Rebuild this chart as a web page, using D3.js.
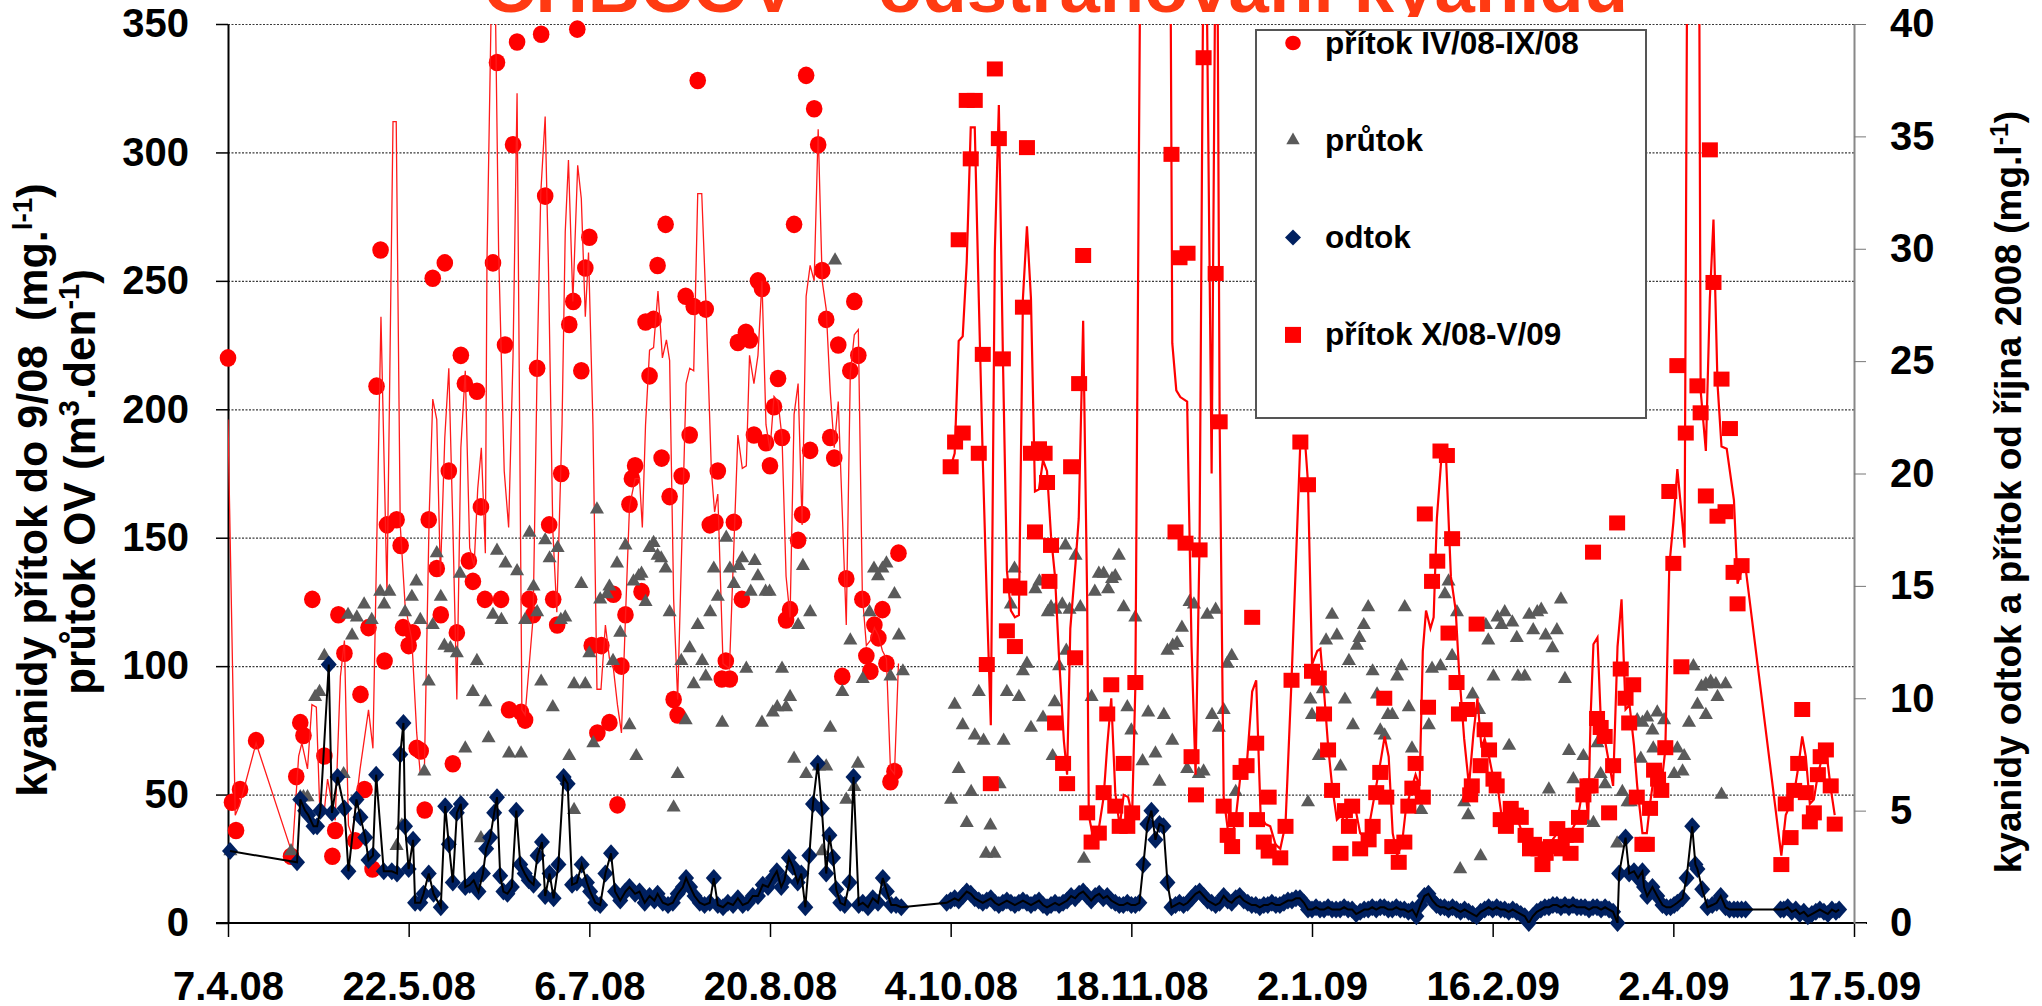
<!DOCTYPE html>
<meta charset="utf-8">

<!-- Load d3.js -->
<script src="https://d3js.org/d3.v7.min.js"></script>

<style>
  body { margin: 0; background: #fff; }
  svg { display: block; font-family: "Liberation Sans", Arial, sans-serif; font-weight: bold; }
</style>

<div id="graf"></div>

<script>

// osa x: popisky dat, dny se pocitaji od 7.4.08
const datumy = ["7.4.08", "22.5.08", "6.7.08", "20.8.08", "4.10.08", "18.11.08", "2.1.09", "16.2.09", "2.4.09", "17.5.09"];
const levaOsa = [0, 50, 100, 150, 200, 250, 300, 350];
const pravaOsa = [0, 5, 10, 15, 20, 25, 30, 35, 40];

// přítok IV/08-IX/08 (mg/l), kolecka, leva osa  [den, hodnota]
const pritokLeto = [[0,220],[1,47],[2,36],[3,52],[7,71],[15.7,26],[17,57],[18,78],[18.8,73],[21,126],[24,65],[26,26],[26.7,36],[27.5,120],[29,105],[31.7,32],[33,89],[34,52],[35,115],[36,21],[37,209],[38,262],[39,102],[39.6,155],[42,157],[43,147],[43.6,115],[45,108],[46,113],[47,68],[48,67],[49,44],[50,157],[51,251],[52,138],[53,120],[54,257],[55,176],[56,62],[57,113],[58,221],[59,210],[60,141],[61,133],[62,207],[63,162],[64,126],[66,257],[67,335],[68,126],[69,225],[70,83],[71,303],[72,343],[73,82],[74,79],[75,126],[76,120],[77,216],[78,346],[79,283],[80,155],[81,126],[82,116],[83,175],[85,233],[86,242],[87,348],[88,215],[89,255],[90,267],[90.6,108],[92,74],[93,108],[95,78],[96,128],[97,46],[98,100],[99,120],[100,163],[100.6,173],[101.4,178],[103,129],[104,234],[105,213],[106,235],[107,256],[108,181],[109,272],[110,166],[111,87],[112,81],[113,174],[114,244],[115,190],[116,240],[117,328],[119,239],[120,155],[121.4,156],[122,176],[123,95],[124,102],[125,95],[126,156],[127,226],[128,126],[129,230],[130,227],[131,190],[132,250],[133,247],[134,187],[135,178],[136,201],[137,212],[138,189],[139,118],[140,122],[141,272],[142,149],[143,159],[144,330],[145,184],[146,317],[147,303],[148,254],[149,235],[150,189],[151,181],[152,225],[153,96],[154,134],[155,215],[156,242],[157,221],[158,126],[159,104],[160,98],[161,116],[162,111],[163,122],[164,101],[165,55],[166,59],[167,144]];

// tenka cara k přítoku IV-IX
const pritokLetoLinie = [[0,196],[1.8,42],[2.9,46],[7,70],[16,27],[17.6,65],[18.4,70],[19.8,60],[20.9,85],[22,84],[22.8,47],[24,44],[24.8,56],[26.7,40],[28,96],[29,110],[30,38],[30.9,34],[32.9,60],[35,83],[36.1,68],[38.1,236],[39.6,128],[41.1,312],[41.9,312],[42.9,155],[44.1,124],[45.8,110],[47,74],[47.9,58],[48.9,58],[50.1,158],[51,204],[52,196],[52.9,135],[54,189],[55,216],[56,155],[57,87],[58,185],[59.1,215],[60.2,146],[61.3,139],[62.2,169],[63.1,185],[64.1,144],[64.5,257],[65.7,370],[66.5,370],[67.4,262],[68.8,176],[69.9,154],[71,221],[72,323],[73.2,83],[74,81],[76,119],[77,216],[77.9,284],[79,314],[79.8,257],[80.9,153],[81.9,121],[83.2,194],[84,269],[84.8,297],[85.9,242],[87.1,295],[88,282],[89,236],[89.8,261],[90.9,194],[91.9,91],[92.9,91],[94,116],[95,103],[96,99],[97,85],[98,74],[99,119],[100,162],[101.4,173],[102.5,173],[103.2,154],[104,194],[105,223],[106,224],[107.1,246],[108.2,220],[109.2,227],[110,219],[111,126],[112,87],[114.1,210],[115,216],[116,215],[117,284],[118,284],[119.1,239],[120.4,176],[121.2,160],[122,167],[123.3,101],[124.9,99],[127,190],[128.1,177],[129.1,178],[129.9,221],[131,210],[132,221],[133,250],[134,194],[135,184],[136,205],[137,203],[138,189],[139,135],[140,119],[141,198],[142,210],[143,155],[144,244],[145,256],[146,250],[147,309],[148,250],[149,239],[150,207],[151,185],[152,203],[153,160],[154,116],[155,214],[156,229],[157,231],[158,128],[159,108],[160,110],[161,115],[162,112],[163,106],[164,103],[165,60],[166,58],[167,101]];

// průtok OV (m3/den), trojuhelniky, leva osa
const prutok = [[0.6,28],[15.7,28],[18,49],[18.8,49],[19.8,49],[21.7,88],[22.8,90],[24,104],[28.8,58],[29.9,120],[30.9,112],[32.1,119],[33.9,124],[35.8,118],[37.9,129],[38.9,124],[40.2,129],[42,30],[43.3,38],[44.1,121],[45.8,127],[46.9,133],[47.9,118],[48.9,59],[50,94],[51,116],[52,144],[53,127],[53.9,108],[55.4,107],[57,105],[57.8,136],[59.1,68],[61,90],[62,102],[63,33],[64.1,86],[64.9,72],[66,120],[67,145],[68.1,118],[69.1,140],[70,66],[72,137],[73,66],[74,118],[75.1,152],[76.1,131],[77,121],[78,94],[79,149],[80.1,142],[80.9,84],[82.1,146],[82.9,118],[84,119],[85,65],[86.2,93],[86.2,44],[88,132],[89,93],[90,105],[91,70],[91.9,161],[92.7,126],[94.4,128],[95,131],[95.9,102],[96.9,140],[97.7,113],[99,147],[100,77],[101,133],[101.7,65],[102.3,135],
  [103,136],[104,125],[105,146],[106,148],[107,143],[107.9,142],[109,138],[110,121],[111,45],[112,58],[112.9,102],[114,79],[115,107],[116,93],[117,116],[118.1,102],[119,96],[120.1,121],[121,138],[122,127],[123.1,78],[124.1,150],[125,138],[126,132],[127.2,139],[128.1,142],[129.1,99],[130.2,129],[131.2,141],[132,135],[133,78],[133.9,129],[134.9,129],[135.7,82],[136.8,84],[138,99],[139,84],[140,88],[141,64],[142,116],[143.2,139],[144,58],[145,121],[147.2,61],[148,28],[149,61],[150,76],[151.2,258],[153,90],[154,48],[155,110],[156,53],[156.9,62],[158.1,95],[159.8,121],[160.9,138],[161.9,135],[163,138],[164,140],[165,96],[166,128],[167.1,112],[168.1,98],
  [180.1,48],[181,85],[182,60],[183,77],[184,39],[185.1,51],[186,73],[187,90],[188.2,71],[188.8,27],[189.9,38],[190.9,27],[192.2,54],[193.2,71],[194,90],[195,124],[195.9,138],[197,88],[198,98],[199,101],[200,76],[201.1,130],[202.1,133],[203,80],[204.2,121],[205,123],[205.4,65],[205.9,86],
  [206.1,122],[207,100],[207.8,124],[208.6,147],[208.8,106],[209.6,122],[211.1,143],[212.3,123],[213.2,25],[215.1,88],[215.9,129],[216.9,136],[218.1,136],[219.2,130],[220.2,134],[221,135],[221.9,143],[223.1,123],[224,84],[225,75],[226,119],[227.8,63],[229.2,82],[231,66],[232,55],[233.1,81],[234,106],[235.2,71],[235.3,108],[236.4,109],[237.6,115],[238.9,60],[239.5,125],[240.6,124],[241.8,58],[243,59],[243.9,120],[245.1,81],[246,122],[246.8,76],[248,83],[248.9,101],[250,104],[251,51],[269,47],[269.6,87],[270,81],[271.7,65],[272.7,91],[273.5,110],[275,120],[276.2,112],[277.1,61],[278.2,87],[279.2,102],[280.2,77],[281.2,108],[281.8,111],[282.9,116],[284,123],[285.1,98],[286.2,89],[287,75],[288.1,73],[288.9,81],[290,81],[291.2,96],[292.3,100],[293.1,123],[294.1,84],[294.9,68],[297.2,44],[299.1,77],[299.9,99],[302,100],[303.1,128],[304,133],[304.9,104],[306.1,121],[306.9,21],[308.9,42],
  [307.9,47],[310,89],[311.6,83],[312,26],[313.3,116],[313.9,110],[315.2,96],[316.2,119],[317.2,116],[318,121],[319.1,69],[319.9,117],[321,111],[321.3,96],[323,96],[324.1,120],[325.1,114],[326.1,121],[327.1,122],[328.2,112],[329,52],[329.9,107],[331,114],[332,126],[333,95],[334,67],[335.1,56],[337.6,65],[338,40],[340.1,39],[341.1,70],[341.9,58],[343,54],[346,31],[347.3,51],[348.6,47],[349.4,47],[351,79],[351.9,64],[352.3,78],[353.5,80],[354.8,75],[355,68],[356,82],[357.7,79],[360.2,58],[361,68],[362.3,59],[362.7,65],[363.9,78],[365,100],[366,85],[367,92],[368.1,93],[368.1,81],[369.3,94],[370.6,93],[371,88],[372,50],[373,93]];

// odtok (mg/l), kosoctverce, prava osa
const odtokJaro = [[0.5,3.2],[17.2,2.7],[18,5.5],[19.2,5.0],[20,4.8],[21.3,4.3],[22.2,4.3],[23,5.0],[25.1,11.5],[25.9,4.9],[27.3,6.5],[29,5.1],[30,2.3],[32,5.5],[33,4.7],[34.2,3.8],[35,2.8],[36.1,3.0],[36.9,6.6],[38.8,2.3],[40.8,2.3],[42.1,2.2],[42.9,7.5],[43.7,8.9],[44.1,4.3],[45,2.4],[46.1,3.7],[46.6,0.9],[47.9,0.9],[48.7,1.3],[50,2.2],[51.2,1.3],[53,0.7],[54.1,5.2],[55,3.5],[56,1.8],[57,4.9],[58,5.3],[59.1,1.6],[60.2,1.7],[61.2,1.9],[62.4,1.4],[63.5,2.2],[64.3,3.3],[65.3,3.8],[66.3,4.9],[67,5.6],[67.8,2.1],[68.6,1.4],[69.6,1.3],[70.7,1.6],[71.8,5.0],[72.8,2.6],[73.9,2.2],[74.9,1.9],[76.1,1.7],[77.1,3.0],[78.2,3.6],[79,1.2],[80.1,2.2],[81.1,1.1],[82.3,2.6],[83.6,6.5],[84.6,6.2],[85.7,1.7],[86.9,1.8],[88.1,2.6],[89.4,1.8],[90.2,1.4],[91.5,0.9],[92.7,0.8],[94,2.2],[95.4,3.1],[96.4,1.4],[97.7,1.0],[99,1.4],[100,1.6],[101.4,1.3],
  [102.5,1.4],[103.8,0.9],[105,1.2],[106.2,1.0],[107,1.3],[108.3,0.9],[109.6,0.8],[110.8,0.9],[112,1.3],[113.3,1.6],[114.1,2.0],[115.1,1.6],[116.2,1.2],[117.5,0.9],[118.7,0.8],[120,0.9],[121,2.0],[122,0.8],[123.3,0.7],[124.5,0.9],[125.8,0.8],[127,1.1],[128.2,0.8],[129.5,0.9],[130.7,1.2],[132,1.2],[133.2,1.7],[134.5,1.6],[135.7,2.0],[136.7,2.3],[137.8,1.6],[138.6,1.9],[139.7,2.9],[140.7,2.5],[141.9,1.8],[142.8,2.2],[143.8,0.7],[144.8,3.0],[145.7,5.3],[146.9,7.1],[147.9,5.1],[149,2.2],[149.8,3.9],[150.7,2.9],[151.5,1.5],[152.5,0.9],[153.6,0.8],[154.8,1.8],[155.8,6.5],[157.1,0.8],[158.1,0.9],[159.4,0.7],[160.6,1.1],[161.9,0.9],[163.1,2.0],[164.1,1.4],[165.2,0.8],[166.4,0.8],[167.7,0.7]];
// denni hodnoty odtoku od dne 179 do dne 345
const odtokPasOd = 179;
const odtokPas = [0.9,1.0,1.1,1.0,1.2,1.4,1.3,1.1,1.0,0.9,1.0,1.1,0.9,0.8,0.9,1.0,0.9,0.8,0.9,1.0,0.9,0.8,0.9,1.0,0.8,0.7,0.8,0.9,
  0.8,0.9,1.0,1.2,1.1,1.3,1.4,1.2,1.0,1.2,1.3,1.1,1.2,1.0,0.9,0.8,0.8,0.9,0.8,0.8,
  0.9,2.6,4.4,5.0,3.7,4.4,4.3,1.8,
  0.7,0.8,0.9,0.8,0.9,1.1,1.3,1.4,1.2,1.0,0.9,0.8,0.9,1.2,1.0,0.9,1.1,1.2,1.0,0.9,0.8,0.8,0.7,0.8,0.8,0.9,0.8,0.8,0.9,1.0,1.0,1.1,1.1,0.9,0.6,0.6,0.7,0.6,0.6,0.7,0.6,0.6,0.6,0.7,0.6,0.6,0.4,0.5,0.6,0.6,0.7,0.6,0.7,0.7,0.6,0.6,0.7,0.6,0.6,0.5,0.6,0.3,0.8,1.2,1.3,1.0,
  0.8,0.7,0.7,0.6,0.7,0.6,0.5,0.6,0.5,0.4,0.3,0.5,0.6,0.7,0.6,0.7,0.6,0.6,0.5,0.6,0.5,0.4,0.3,0.0,0.3,0.5,0.6,0.7,0.7,0.8,0.8,0.7,0.8,0.7,0.8,0.7,0.7,0.7,0.6,0.7,0.7,0.6,0.7,0.6,0.5];
const odtokKonec = [[346.1,0.0],[346.5,2.2],[348.1,3.8],[349,2.2],[350.2,2.3],[351.2,2.0],[352.3,2.3],[352.7,1.6],[353.5,1.2],[354.8,1.6],[356,1.2],[357.3,0.8],[358.3,0.7],[359.3,0.7],[360.2,0.8],[361,0.9],[362.3,1.1],[363.3,2.0],[364.7,4.3],[365.5,2.6],[366,2.4],[367.2,1.5],[368.5,0.7],[369.7,0.8],[370.8,0.9],[371.8,1.2],[373,0.7],[374,0.6],[375.1,0.6],[376,0.6],[377,0.6],[378,0.6],[386.7,0.6],[387.5,0.6],[388.5,0.7],[389.5,0.5],[390.5,0.6],[391.5,0.4],[392.5,0.5],[393.5,0.3],[394.5,0.4],[395.5,0.5],[396.5,0.6],[397.5,0.5],[398.5,0.4],[399.5,0.6],[400.5,0.5],[401.3,0.6]];

// přítok X/08-V/09 (mg/l), ctverce, prava osa
const pritokZima = [[180,20.3],[181.1,21.4],[182,30.4],[183,21.8],[184,36.6],[185,34.0],[186,36.6],[187,20.9],[188,25.3],[189,11.5],[190,6.2],[191,38.0],[192,34.9],[193,25.1],[194,13.0],[195,15.0],[196,12.3],[197.1,14.9],[198,27.4],[199,34.5],[200,20.9],[201,17.4],[202,21.1],[203.4,20.9],[204,19.6],[204.6,15.2],[205,16.8],[206,8.9],
  [208,7.1],[209,6.2],[210,20.3],[211,11.8],[212,24.0],[213,29.7],[214,4.9],[215.1,3.6],[216.9,4.0],[218.1,5.8],[219,9.3],[220,10.6],[221,5.2],[222.1,4.3],[223.1,7.1],[224,4.3],[225.2,4.9],[226,10.7],[235,34.2],[236,17.4],[237,29.6],[238.5,16.9],[239,29.8],[240,7.4],[241.1,5.7],[242,16.6],[243,38.5],[246,28.9],[247,22.3],[248,5.2],[249,3.9],[250.1,3.4],[251,4.6],[252.2,6.7],[253.7,7.0],[255.1,13.6],[256.1,8.0],[256.3,4.6],[258,3.6],[259.2,3.2],[259.2,5.6],[262.1,2.9],[263.4,4.3],[264.9,10.8],[267.1,21.4],[269,19.5],[270,11.2],[271.7,10.9],[273,9.3],[274,7.7],[275,5.9],[277.1,3.1],[278.2,5.0],[279.2,4.3],[280,5.2],[282,3.3],[284.1,3.7],[285.1,4.3],[286,5.8],[287,6.7],[288,10.0],[288.5,5.6],[290,3.4],[291.6,2.7],[293,3.6],[294,5.2],[295,6.0],[295.8,7.1],[297.6,5.6],[298.1,18.2],[298.9,9.6],[299.9,15.2],[301.2,16.1],[302,21.0],[303.6,20.8],[304,12.9],[304.9,17.1],[306,10.7],[306.6,9.3],[308.6,9.5],[309.4,5.7],
  [309.8,6.1],[311,13.3],[312,7.0],[313,8.6],[314.1,7.7],[315.2,6.4],[316,6.1],[317,4.6],[318.3,4.3],[319.5,5.1],[320.8,4.8],[322,4.7],[323.2,3.9],[324.3,3.3],[325.3,3.5],[326.4,3.3],[327.4,2.6],[328.2,3.1],[329.5,3.4],[331.1,4.2],[332.2,3.3],[333.2,3.9],[334.4,3.1],[335.7,3.9],[336.5,4.7],[337.6,5.7],[338.6,6.1],[339.4,6.1],[340,16.5],[341,9.1],[341.9,8.7],[342.9,8.3],[344,4.9],[345,7.0],[346,17.8],[346.9,11.3],[348.1,10.0],[349,8.9],[350,10.6],[350.9,5.6],[352.3,3.5],[353.4,3.5],[354.2,5.1],[355.2,6.8],[356.2,6.4],[357,5.9],[358,7.8],[359,19.2],[360,16.0],[361,24.8],[362,11.4],[363.1,21.8],[366,23.9],[366.8,22.7],[368.1,19.0],[369.1,34.4],[370,28.5],[371,18.1],[372,24.2],[373,18.3],[374.1,22.0],[375,15.6],[376,14.2],[377,15.9],[386.9,2.6],[388,5.3],[389.2,3.8],[390.1,5.9],[391.1,7.1],[392.1,9.5],[393,5.8],[394,4.5],[395,4.9],[396,6.6],[396.7,7.4],[398,7.7],[399.2,6.1],[400.2,4.4]];

// cara k přítoku X-V (spicky nad 40 jsou mimo graf)
const pritokZimaLinie = [[180,20.3],[181,20.9],[182,25.9],[183,26.1],[184,29.4],[185,35.4],[186,35.4],[187,27.8],[188,20.6],[189,14.4],[190,8.8],[191,29.9],[192,36.4],[193,25.3],[194,15.7],[195,13.9],[196,13.6],[197,13.7],[198,27.8],[199,31.0],[200,27.8],[201,19.2],[202,19.3],[203,20.6],[204,20.1],[205,17.2],[206,15.4],[207,11.8],[208.2,8.1],[209,6.6],[209.8,13.1],[211.1,16.0],[211.9,18.0],[213,26.8],[214,14.4],[214.4,4.8],[215.7,3.6],[216.9,4.2],[218.1,5.6],[219,7.9],[220,10.0],[221,5.8],[222.1,4.3],[223.1,5.7],[224.2,5.6],[225.2,4.8],[226,10.5],[227.3,45],[234.7,45],[235.2,25.8],[236.2,23.7],[237.2,23.4],[238.9,23.2],[240,12.3],[241,6.6],[242,17.0],[243,45],[243.6,45],[245,20.0],[246,45],[246.4,45],[247,22.2],[248,5.6],[249,4.2],[250.1,3.8],[251.1,4.8],[252.2,6.6],[253.7,6.9],[255.1,10.3],[256.1,10.8],[257.2,4.8],[258.4,4.4],[259.6,4.3],[260.9,3.5],[262.1,3.3],[263.4,4.4],[264.9,10.8],[267.1,21.4],[268.2,21.6],[269,19.6],[270,11.5],[271.3,12.1],[272.1,12.2],[273,10.3],[274,7.9],[275,6.1],[276.2,4.6],[277.3,4.8],[278.3,4.4],[279.6,5.3],[280.8,5.1],[282,4.0],[283.3,3.8],[284.5,4.6],[285.8,5.9],[287,7.1],[288.1,8.3],[289.1,7.4],[290.1,4.0],[291.2,3.0],[292.4,3.5],[293.4,5.1],[294.5,5.8],[295.8,6.6],[296.8,6.1],[297.6,12.1],[298.4,13.9],[299.5,13.1],[300.3,13.6],[301.1,18.0],[302.4,21.1],[303.3,21.1],[304.6,15.4],[305.8,13.9],[306.6,11.3],[307.9,8.2],[309.1,6.1],[310.2,8.4],[311.2,10.0],[312.2,7.8],[313,8.2],[314.1,7.4],[315.2,6.4],[316.2,6.1],[317.2,4.8],[318.3,4.4],[319.5,5.1],[320.8,4.8],[322,4.2],[323.2,3.8],[324.3,3.4],[325.3,3.5],[326.4,3.4],[327.4,3.3],[328.6,3.5],[329.9,3.7],[331.1,4.0],[332.4,3.9],[333.6,4.0],[334.9,4.2],[336.1,4.6],[337.1,5.6],[338.2,5.8],[338.8,4.6],[339.4,9.2],[340.1,12.4],[341.1,12.7],[341.9,9.2],[342.9,8.2],[344,7.1],[345,6.1],[346.1,12.3],[347.1,14.4],[348.1,9.5],[349.1,9.7],[350.2,7.9],[351,6.1],[352.3,4.0],[353.4,4.0],[354.2,5.3],[355.2,6.6],[356.2,6.4],[357,6.1],[358,7.7],[359,15.9],[360,17.8],[361,20.2],[362,18.3],[362.8,16.7],[363.5,45],[366.4,45],[366.8,23.7],[368.1,21.0],[369.1,27.8],[370,31.3],[371,24.0],[372,21.2],[373.3,21.1],[375.1,18.8],[376,15.1],[377,15.7],[378,15.8],[386.9,3.0],[388,4.8],[389.2,5.3],[390.1,5.8],[391.1,6.9],[392.1,8.3],[393,7.4],[394,5.3],[395,5.5],[396,6.6],[397.1,7.4],[398.2,7.5],[399.2,6.0],[400.2,4.8]];

// popisky
const nadpis = "CHBČOV – odstraňování kyanidů";
const legenda = ["přítok IV/08-IX/08", "průtok", "odtok", "přítok X/08-V/09"];

// rozmery
const W = 2042, H = 1006;
const margin = {top: 24, right: 188, bottom: 83, left: 228},
    width = W - margin.left - margin.right,
    height = H - margin.top - margin.bottom;

const root = d3.select("#graf")
  .append("svg")
    .attr("width", W)
    .attr("height", H);

root.append("rect").attr("width", W).attr("height", H).attr("fill", "#fff");

// nadpis (vetsina je oriznuta hornim okrajem)
root.append("text")
  .attr("x", 483)
  .attr("y", 12)
  .attr("font-size", 70)
  .attr("fill", "#ff3a12")
  .attr("textLength", 1145)
  .attr("lengthAdjust", "spacingAndGlyphs")
  .text(nadpis);
root.append("rect").attr("y", 17).attr("width", W).attr("height", H - 17).attr("fill", "#fff");

const svg = root.append("g")
  .attr("transform", `translate(${margin.left}, ${margin.top})`);

const parse = d3.utcParse("%d.%m.%y");
const start = parse(datumy[0]);
const den = d => new Date(+start + d * 864e5);

const x = d3.scaleUtc()
  .domain([start, parse(datumy[datumy.length - 1])])
  .range([0, width]);
const yL = d3.scaleLinear().domain([0, 350]).range([height, 0]);
const yR = d3.scaleLinear().domain([0, 40]).range([height, 0]);

svg.append("clipPath").attr("id", "plocha")
  .append("rect").attr("width", width).attr("height", height);

// mrizka
svg.append("g")
  .call(d3.axisLeft(yL).tickValues(levaOsa.slice(1)).tickSize(-width).tickFormat(""))
  .call(g => g.select(".domain").remove())
  .selectAll("line")
    .attr("stroke", "#3a3a3a")
    .attr("stroke-width", 1.2)
    .attr("stroke-dasharray", "2,1.5");

// osy
const osaX = svg.append("g")
  .attr("transform", `translate(0, ${height})`)
  .call(d3.axisBottom(x)
    .tickValues(datumy.map(parse))
    .tickSize(14)
    .tickSizeOuter(0)
    .tickPadding(35)
    .tickFormat((d, i) => datumy[i]));
osaX.select(".domain").attr("stroke", "#000").attr("stroke-width", 2)
  .attr("d", `M-12,0H${width + 13}`);

const osaL = svg.append("g")
  .call(d3.axisLeft(yL).tickValues(levaOsa).tickSize(12).tickSizeOuter(0).tickPadding(27));
osaL.select(".domain").attr("stroke-width", 2);

const osaR = svg.append("g")
  .attr("transform", `translate(${width}, 0)`)
  .call(d3.axisRight(yR).tickValues(pravaOsa).tickSize(12).tickSizeOuter(0).tickPadding(24));
osaR.select(".domain").attr("stroke", "#888").attr("stroke-width", 2);
osaR.selectAll(".tick line").attr("stroke", "#777");

[osaX, osaL, osaR].forEach(g => g.selectAll("text")
  .attr("font-family", "Liberation Sans, Arial, sans-serif")
  .attr("font-weight", "bold")
  .attr("font-size", 40)
  .attr("fill", "#000"));
osaL.selectAll(".tick line").attr("stroke-width", 1.5);
osaX.selectAll(".tick line").attr("stroke-width", 1.5);

// tvary znacek
const trojuhelnik = d3.symbol(d3.symbolTriangle, 86);
const kosoctverec = "M0,-9L8,0L0,9L-8,0Z";

// přítok IV-IX
svg.append("g")
  .selectAll("ellipse")
  .data(pritokLeto)
  .join("ellipse")
    .attr("cx", d => x(den(d[0])))
    .attr("cy", d => yL(d[1]))
    .attr("rx", 8.3)
    .attr("ry", 8.8)
    .attr("fill", "#ff0000");

svg.append("path")
  .datum(pritokLetoLinie)
  .attr("clip-path", "url(#plocha)")
  .attr("fill", "none")
  .attr("stroke", "#ff1a1a")
  .attr("stroke-width", 1.3)
  .attr("d", d3.line().x(d => x(den(d[0]))).y(d => yL(d[1])));

// průtok
svg.append("g")
  .selectAll("path")
  .data(prutok)
  .join("path")
    .attr("transform", d => `translate(${x(den(d[0]))}, ${yL(d[1])})`)
    .attr("d", trojuhelnik)
    .attr("fill", "#5a5a5a");

// odtok
const odtok = odtokJaro
  .concat(odtokPas.map((v, i) => [odtokPasOd + i, v]))
  .concat(odtokKonec);

svg.append("g")
  .selectAll("path")
  .data(odtok)
  .join("path")
    .attr("transform", d => `translate(${x(den(d[0]))}, ${yR(d[1])})`)
    .attr("d", kosoctverec)
    .attr("fill", "#002060");

svg.append("path")
  .datum(odtok)
  .attr("clip-path", "url(#plocha)")
  .attr("fill", "none")
  .attr("stroke", "#000")
  .attr("stroke-width", 2)
  .attr("d", d3.line().x(d => x(den(d[0]))).y(d => yR(d[1])));

// přítok X-V
svg.append("g")
  .selectAll("rect")
  .data(pritokZima)
  .join("rect")
    .attr("x", d => x(den(d[0])) - 8)
    .attr("y", d => yR(d[1]) - 7.5)
    .attr("width", 16)
    .attr("height", 15)
    .attr("fill", "#ff0000");

svg.append("path")
  .datum(pritokZimaLinie)
  .attr("clip-path", "url(#plocha)")
  .attr("fill", "none")
  .attr("stroke", "#ff0000")
  .attr("stroke-width", 2.2)
  .attr("d", d3.line().x(d => x(den(d[0]))).y(d => yR(d[1])));

// legenda
const leg = root.append("g").attr("transform", "translate(1256, 30)");
leg.append("rect")
  .attr("width", 390)
  .attr("height", 388)
  .attr("fill", "#fff")
  .attr("stroke", "#555")
  .attr("stroke-width", 2);

const polozky = leg.selectAll("g.pol")
  .data(legenda)
  .join("g")
    .attr("class", "pol")
    .attr("transform", (d, i) => `translate(37, ${13 + i * 97.3})`);

polozky.append("path")
  .attr("d", (d, i) => [
      "M-7.8,0A7.8,7.3 0 1,0 7.8,0A7.8,7.3 0 1,0 -7.8,0Z",
      d3.symbol(d3.symbolTriangle, 78)(),
      "M0,-8L8,0L0,8L-8,0Z",
      "M-8,-8H8V8H-8Z"][i])
  .attr("fill", (d, i) => ["#ff0000", "#5a5a5a", "#002060", "#ff0000"][i]);

polozky.append("text")
  .attr("x", 32)
  .attr("y", 10.5)
  .attr("font-size", 31.5)
  .text(d => d);

// popisky os
const levyPopis = root.append("g")
  .attr("font-family", "Liberation Sans, Arial, sans-serif")
  .attr("font-weight", "bold")
  .attr("text-anchor", "middle");

const r1 = levyPopis.append("text")
  .attr("transform", "translate(47, 490) rotate(-90)")
  .attr("font-size", 43)
  .style("white-space", "pre");
r1.append("tspan").text("kyanidy přítok do 9/08  (mg.");
r1.append("tspan").attr("font-size", 28).attr("dy", -15).text("l-1");
r1.append("tspan").attr("dy", 15).text(")");

const r2 = levyPopis.append("text")
  .attr("transform", "translate(95, 482) rotate(-90)")
  .attr("font-size", 44);
r2.append("tspan").text("průtok OV (m");
r2.append("tspan").attr("font-size", 29).attr("dy", -16).text("3");
r2.append("tspan").attr("dy", 16).text(".den");
r2.append("tspan").attr("font-size", 29).attr("dy", -16).text("-1");
r2.append("tspan").attr("dy", 16).text(")");

const r3 = levyPopis.append("text")
  .attr("transform", "translate(2021, 492) rotate(-90)")
  .attr("font-size", 37);
r3.append("tspan").text("kyanidy odtok a přítok od října 2008 (mg.l");
r3.append("tspan").attr("font-size", 25).attr("dy", -13).text("-1");
r3.append("tspan").attr("dy", 13).text(")");

</script>
